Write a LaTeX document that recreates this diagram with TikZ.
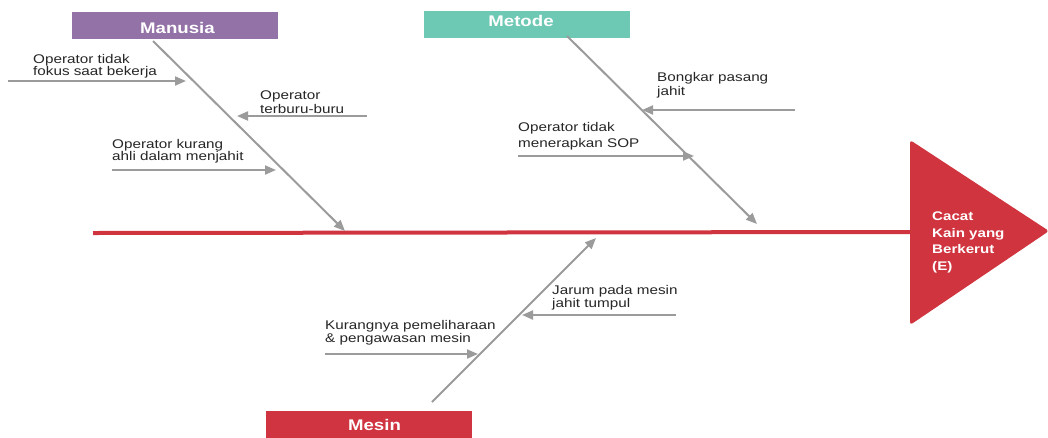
\documentclass[tikz,border=0pt]{standalone}
\usepackage{fontspec}
\setmainfont{Liberation Sans}[FakeStretch=1.21]
\usetikzlibrary{arrows.meta}
\definecolor{spinered}{HTML}{D0343F}
\definecolor{boxpurple}{HTML}{9372A8}
\definecolor{boxteal}{HTML}{6DC8B4}
\definecolor{boxred}{HTML}{CF3440}
\definecolor{bonegray}{HTML}{9B9B9B}
\tikzset{
  catbox/.style={rectangle, inner sep=0pt, minimum width=206pt, text width=206pt,
     align=center, text=white, font=\fontsize{15.4}{18}\selectfont\bfseries},
  bone/.style={draw=bonegray, line width=2pt, -{Triangle[length=11pt,width=9pt]}},
  cause/.style={anchor=base west, inner sep=0pt, align=left, text=black!85,
     font=\fontsize{12.6}{#1}\selectfont},
  cause/.default=13,
  spine/.style={draw=spinered, line width=4pt},
  effecttext/.style={anchor=base west, inner sep=0pt, align=left, text=white,
     font=\fontsize{12.5}{16.5}\selectfont\bfseries}
}
\begin{document}
\begin{tikzpicture}[x=1pt,y=-1pt]
\useasboundingbox (0,0) rectangle (1048,437);

% effect head
\node[inner sep=0pt] (head) at (910,232) {};
\fill[spinered, rounded corners=3pt] (910,140) -- (1049,231) -- (910,325) -- cycle;
\node[effecttext] (effect) at (932,270) {Cacat\\Kain yang\\Berkerut\\(E)};

% spine
\coordinate (tail) at (93,233);
\draw[spine] (tail) -- (head.center);

% category boxes
\node[catbox, fill=boxpurple, text height=21pt, text depth=6pt] (manusia) at (175,25.5) {\hspace*{5pt}Manusia};
\node[catbox, fill=boxteal, text height=15pt, text depth=12pt] (metode) at (527,24.5) {\hspace*{-12pt}Metode};
\node[catbox, fill=boxred, text height=19pt, text depth=8pt] (mesin) at (369,424.5) {\hspace*{11pt}Mesin};

% main bones
\coordinate (m0) at (153,41);
\coordinate (m1) at (345,231);
\draw[bone] (m0) -- (m1);
\coordinate (t0) at (567,36);
\coordinate (t1) at (757,224);
\draw[bone] (t0) -- (t1);
\coordinate (s0) at (432,402);
\coordinate (s1) at (596,238);
\draw[bone] (s0) -- (s1);

% Manusia causes
\coordinate (a0) at (8,81);  \coordinate (a1) at (186,81);
\draw[bone] (a0) -- (a1);
\node[cause=12.3] (ta) at (33,75.5) {Operator tidak\\fokus saat bekerja};
\coordinate (b0) at (367,116); \coordinate (b1) at (237,116);
\draw[bone] (b0) -- (b1);
\node[cause=14] (tb) at (260,113) {Operator\\terburu-buru};
\coordinate (c0) at (112,170); \coordinate (c1) at (276,170);
\draw[bone] (c0) -- (c1);
\node[cause=12.5] (tc) at (112,160.5) {Operator kurang\\ahli dalam menjahit};

% Metode causes
\coordinate (d0) at (795,110); \coordinate (d1) at (642,110);
\draw[bone] (d0) -- (d1);
\node[cause=14] (td) at (657,95.5) {Bongkar pasang\\jahit};
\coordinate (e0) at (518,156); \coordinate (e1) at (694,156);
\draw[bone] (e0) -- (e1);
\node[cause=16] (te) at (518,147) {Operator tidak\\menerapkan SOP};

% Mesin causes
\coordinate (f0) at (676,315); \coordinate (f1) at (522,315);
\draw[bone] (f0) -- (f1);
\node[cause=13.3] (tf) at (552,307.3) {Jarum pada mesin\\jahit tumpul};
\coordinate (g0) at (325,354); \coordinate (g1) at (478,354);
\draw[bone] (g0) -- (g1);
\node[cause=13.3] (tg) at (325,342.3) {Kurangnya pemeliharaan\\\& pengawasan mesin};
\end{tikzpicture}
\end{document}
